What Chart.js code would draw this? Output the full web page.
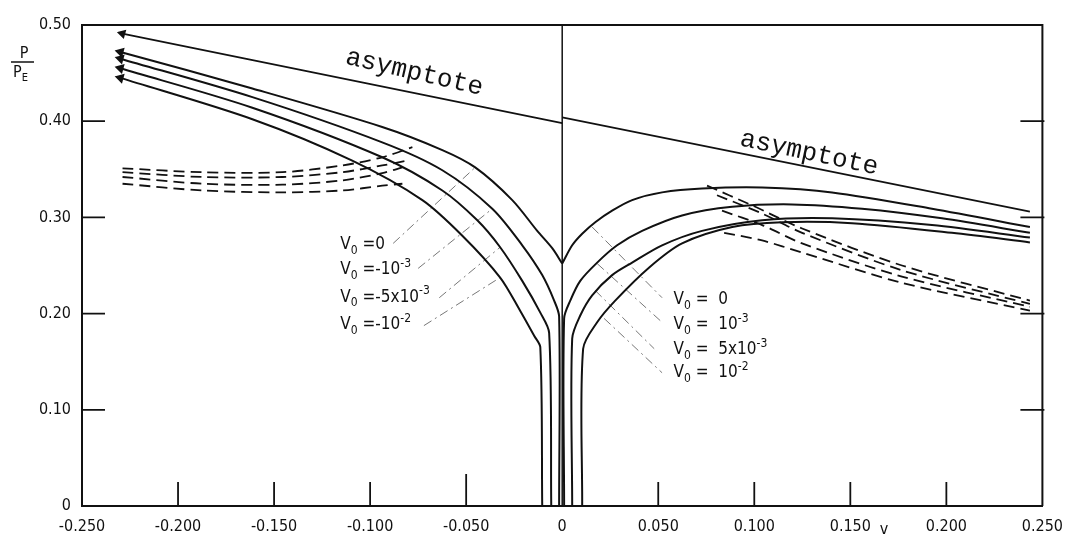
<!DOCTYPE html>
<html>
<head>
<meta charset="utf-8">
<script src="https://cdn.jsdelivr.net/npm/chart.js@4.4.1/dist/chart.umd.min.js"></script>
<style>
  html, body { margin: 0; padding: 0; background: #fff; }
  #wrap { width: 1066px; height: 539px; }
</style>
</head>
<body>
<div id="wrap"><canvas id="c" width="1066" height="539"></canvas></div>
<script>
// Load vs. deflection curves, P/PE against v.
var X_TICKS = [-0.25, -0.2, -0.15, -0.1, -0.05, 0, 0.05, 0.1, 0.15, 0.2, 0.25];
var Y_TICKS = [0, 0.1, 0.2, 0.3, 0.4, 0.5];

var axisZero = [[0, 0], [0, 0.5]];
var asymptoteLeft = [[-0.229, 0.491], [0, 0.398]];
var asymptoteRight = [[0, 0.404], [0.2435, 0.306]];

// solid branches, left side (V0 = 0, -1e-3, -5e-3, -1e-2)
var solidL0 = [[-0.23, 0.472], [-0.1613, 0.434], [-0.0937, 0.394], [-0.0624, 0.370], [-0.0453, 0.352], [-0.026, 0.318], [-0.013, 0.286], [-0.0052, 0.268], [0, 0.252]];
var solidL1 = [[-0.23, 0.465], [-0.1613, 0.425], [-0.0937, 0.378], [-0.0624, 0.349], [-0.0364, 0.309], [-0.0208, 0.271], [-0.0104, 0.240], [-0.0042, 0.2135], [-0.0016, 0.197], [-0.0016, 0]];
var solidL2 = [[-0.23, 0.455], [-0.1613, 0.414], [-0.0937, 0.3625], [-0.0624, 0.328], [-0.0442, 0.297], [-0.0323, 0.269], [-0.0208, 0.234], [-0.0114, 0.201], [-0.0068, 0.180], [-0.0057, 0]];
var solidL3 = [[-0.23, 0.445], [-0.1613, 0.402], [-0.1093, 0.359], [-0.0728, 0.318], [-0.052, 0.281], [-0.0323, 0.2375], [-0.0219, 0.203], [-0.0146, 0.177], [-0.0114, 0.165], [-0.0104, 0]];

// solid branches, right side (V0 = 0, 1e-3, 5e-3, 1e-2)
var solidR0 = [[0, 0.252], [0.0052, 0.271], [0.0104, 0.283], [0.0172, 0.295], [0.026, 0.307], [0.0364, 0.318], [0.052, 0.326], [0.0728, 0.330], [0.1041, 0.331], [0.1405, 0.326], [0.1925, 0.309], [0.2435, 0.290]];
var solidR1 = [[0.001, 0], [0.001, 0.195], [0.0042, 0.2135], [0.0094, 0.234], [0.0182, 0.253], [0.0286, 0.271], [0.0416, 0.286], [0.0624, 0.302], [0.0885, 0.311], [0.1197, 0.3135], [0.1561, 0.309], [0.1977, 0.299], [0.2435, 0.284]];
var solidR2 = [[0.0052, 0], [0.0052, 0.174], [0.0094, 0.198], [0.0156, 0.219], [0.026, 0.240], [0.0364, 0.253], [0.052, 0.271], [0.0728, 0.286], [0.1041, 0.297], [0.1405, 0.299], [0.1925, 0.292], [0.2435, 0.279]];
var solidR3 = [[0.0104, 0], [0.0109, 0.1635], [0.0182, 0.191], [0.0276, 0.2135], [0.0453, 0.248], [0.0624, 0.273], [0.0885, 0.290], [0.1145, 0.295], [0.1509, 0.294], [0.2029, 0.284], [0.2435, 0.274]];

// dashed branches
var dashL0 = [[-0.2289, 0.351], [-0.1873, 0.347], [-0.1457, 0.347], [-0.1145, 0.354], [-0.0937, 0.3625], [-0.078, 0.373]];
var dashL1 = [[-0.2289, 0.347], [-0.1873, 0.342], [-0.1457, 0.342], [-0.1145, 0.347], [-0.0937, 0.354], [-0.0806, 0.359]];
var dashL2 = [[-0.2289, 0.342], [-0.1873, 0.335], [-0.1457, 0.334], [-0.1145, 0.3385], [-0.0937, 0.346], [-0.0832, 0.352]];
var dashL3 = [[-0.2289, 0.335], [-0.1873, 0.328], [-0.1457, 0.326], [-0.1145, 0.328], [-0.0937, 0.333], [-0.0832, 0.335]];
var dashR0 = [[0.0754, 0.333], [0.0989, 0.3125], [0.1249, 0.2885], [0.1769, 0.250], [0.2435, 0.2135]];
var dashR1 = [[0.0806, 0.323], [0.1041, 0.304], [0.1249, 0.284], [0.1769, 0.245], [0.2435, 0.210]];
var dashR2 = [[0.0832, 0.307], [0.1041, 0.292], [0.1249, 0.273], [0.1769, 0.2385], [0.2435, 0.207]];
var dashR3 = [[0.0843, 0.284], [0.1041, 0.276], [0.1249, 0.2635], [0.1769, 0.232], [0.2435, 0.203]];

// leader lines from the labels to the curves
var leaders = [
  [[-0.088, 0.273], [-0.0453, 0.352]],
  [[-0.075, 0.247], [-0.0364, 0.309]],
  [[-0.064, 0.2165], [-0.0323, 0.269]],
  [[-0.072, 0.1875], [-0.0323, 0.2375]],
  [[0.0156, 0.290], [0.052, 0.2165]],
  [[0.0182, 0.252], [0.052, 0.191]],
  [[0.0172, 0.224], [0.0479, 0.1635]],
  [[0.0218, 0.195], [0.052, 0.1385]]
];

var labelsLeft = [
  [["V"], ["0", "sub"], [" =0"]],
  [["V"], ["0", "sub"], [" =-10"], ["-3", "sup"]],
  [["V"], ["0", "sub"], [" =-5x10"], ["-3", "sup"]],
  [["V"], ["0", "sub"], [" =-10"], ["-2", "sup"]]
];
var labelsLeftAt = [[-0.1155, 0.267], [-0.1155, 0.241], [-0.1155, 0.2125], [-0.1155, 0.184]];
var labelsRight = [
  [["V"], ["0", "sub"], [" =  0"]],
  [["V"], ["0", "sub"], [" =  10"], ["-3", "sup"]],
  [["V"], ["0", "sub"], [" =  5x10"], ["-3", "sup"]],
  [["V"], ["0", "sub"], [" =  10"], ["-2", "sup"]]
];
var labelsRightAt = [[0.058, 0.210], [0.058, 0.184], [0.058, 0.158], [0.058, 0.134]];
var asymptoteLabelAt = [[-0.1134, 0.460, 13], [0.0921, 0.375, 12]];

function pts(arr) {
  return arr.map(function (p) { return { x: p[0], y: p[1] }; });
}

var LABEL_FONT = '"DejaVu Sans Condensed", "DejaVu Sans", sans-serif';

function solid(arr, arrow) {
  return {
    data: pts(arr),
    borderColor: "#111",
    borderWidth: 2,
    tension: 0.3,
    pointRadius: function (c) { return arrow && c.dataIndex === 0 ? 4 : 0; },
    pointStyle: "triangle",
    rotation: -75,
    pointBackgroundColor: "#111",
    pointBorderColor: "#111"
  };
}
function dashed(arr) {
  return { data: pts(arr), borderColor: "#111", borderWidth: 1.8, borderDash: [11, 6], tension: 0.3, pointRadius: 0 };
}

var datasets = [
  { data: pts(axisZero), borderColor: "#111", borderWidth: 1.5, pointRadius: 0 },
  solid(asymptoteLeft, true),
  { data: pts(asymptoteRight), borderColor: "#111", borderWidth: 1.6, pointRadius: 0 },
  solid(solidL0, true), solid(solidL1, true), solid(solidL2, true), solid(solidL3, true),
  solid(solidR0, false), solid(solidR1, false), solid(solidR2, false), solid(solidR3, false),
  dashed(dashL0), dashed(dashL1), dashed(dashL2), dashed(dashL3),
  dashed(dashR0), dashed(dashR1), dashed(dashR2), dashed(dashR3)
];
leaders.forEach(function (l) {
  datasets.push({ data: pts(l), borderColor: "#777", borderWidth: 1, borderDash: [9, 4, 2, 4], pointRadius: 0 });
});
datasets[2].borderWidth = 1.6;
datasets[1].borderWidth = 1.6;

function drawRich(ctx, parts, x, y, size) {
  parts.forEach(function (p) {
    var mode = p[1] || "n";
    var fs = mode === "n" ? size : Math.round(size * 0.68);
    ctx.font = fs + "px " + LABEL_FONT;
    var dy = mode === "sub" ? size * 0.28 : mode === "sup" ? -size * 0.42 : 0;
    ctx.fillText(p[0], x, y + dy);
    x += ctx.measureText(p[0]).width;
  });
}

var decorations = {
  id: "decorations",
  afterDatasetsDraw: function (chart) {
    var ctx = chart.ctx;
    var xs = chart.scales.x, ys = chart.scales.y;
    var a = chart.chartArea;
    ctx.save();
    ctx.strokeStyle = "#111";
    ctx.lineWidth = 2;
    // top and right frame
    ctx.beginPath();
    ctx.moveTo(a.left, a.top);
    ctx.lineTo(a.right, a.top);
    ctx.lineTo(a.right, a.bottom);
    ctx.stroke();
    // inward tick marks
    ctx.lineWidth = 1.8;
    X_TICKS.forEach(function (v) {
      if (v === 0 || Math.abs(v) === 0.25) return;
      var px = xs.getPixelForValue(v);
      ctx.beginPath();
      ctx.moveTo(px, a.bottom);
      ctx.lineTo(px, a.bottom - (v === -0.05 ? 32 : 24));
      ctx.stroke();
    });
    Y_TICKS.forEach(function (v) {
      if (v === 0 || v === 0.5) return;
      var py = ys.getPixelForValue(v);
      ctx.beginPath();
      ctx.moveTo(a.left, py);
      ctx.lineTo(a.left + 23, py);
      ctx.moveTo(a.right + 2, py);
      ctx.lineTo(a.right - 22, py);
      ctx.stroke();
    });
    ctx.fillStyle = "#111";
    ctx.textBaseline = "alphabetic";
    ctx.textAlign = "left";
    labelsLeft.forEach(function (parts, i) {
      drawRich(ctx, parts, xs.getPixelForValue(labelsLeftAt[i][0]), ys.getPixelForValue(labelsLeftAt[i][1]), 17);
    });
    labelsRight.forEach(function (parts, i) {
      drawRich(ctx, parts, xs.getPixelForValue(labelsRightAt[i][0]), ys.getPixelForValue(labelsRightAt[i][1]), 17);
    });
    // "asymptote" labels, typewriter style, along the lines
    ctx.font = '26px "Liberation Mono", "DejaVu Sans Mono", monospace';
    asymptoteLabelAt.forEach(function (p) {
      ctx.save();
      ctx.translate(xs.getPixelForValue(p[0]), ys.getPixelForValue(p[1]));
      ctx.rotate(p[2] * Math.PI / 180);
      ctx.fillText("asymptote", 0, 0);
      ctx.restore();
    });
    // axis titles
    ctx.textAlign = "center";
    ctx.font = "16px " + LABEL_FONT;
    ctx.fillText("P", 24, 58);
    ctx.lineWidth = 1.5;
    ctx.beginPath();
    ctx.moveTo(11, 62);
    ctx.lineTo(34, 62);
    ctx.stroke();
    ctx.textAlign = "left";
    drawRich(ctx, [["P"], ["E", "sub"]], 13, 77, 16);
    ctx.textAlign = "center";
    ctx.font = "16px " + LABEL_FONT;
    ctx.fillText("v", 884, 534);
    ctx.restore();
  }
};

new Chart(document.getElementById("c"), {
  type: "line",
  data: { datasets: datasets },
  options: {
    responsive: false,
    animation: false,
    events: [],
    layout: { padding: { top: 25, right: 23, left: 0, bottom: 0 } },
    plugins: { legend: { display: false }, tooltip: { enabled: false } },
    scales: {
      x: {
        type: "linear",
        min: -0.25,
        max: 0.25,
        afterFit: function (s) { s.height = 33; },
        afterBuildTicks: function (s) { s.ticks = X_TICKS.map(function (v) { return { value: v }; }); },
        grid: { display: false },
        border: { display: true, color: "#111", width: 2 },
        ticks: {
          color: "#111",
          padding: 3,
          maxRotation: 0,
          autoSkip: false,
          font: { family: LABEL_FONT, size: 16 },
          callback: function (v) { return Math.abs(v) < 1e-9 ? "0" : v.toFixed(3); }
        }
      },
      y: {
        type: "linear",
        min: 0,
        max: 0.5,
        afterFit: function (s) { s.width = 82; },
        afterBuildTicks: function (s) { s.ticks = Y_TICKS.map(function (v) { return { value: v }; }); },
        grid: { display: false },
        border: { display: true, color: "#111", width: 2 },
        ticks: {
          color: "#111",
          padding: 3,
          font: { family: LABEL_FONT, size: 16 },
          callback: function (v) { return Math.abs(v) < 1e-9 ? "0" : v.toFixed(2); }
        }
      }
    }
  },
  plugins: [decorations]
});
</script>
</body>
</html>
